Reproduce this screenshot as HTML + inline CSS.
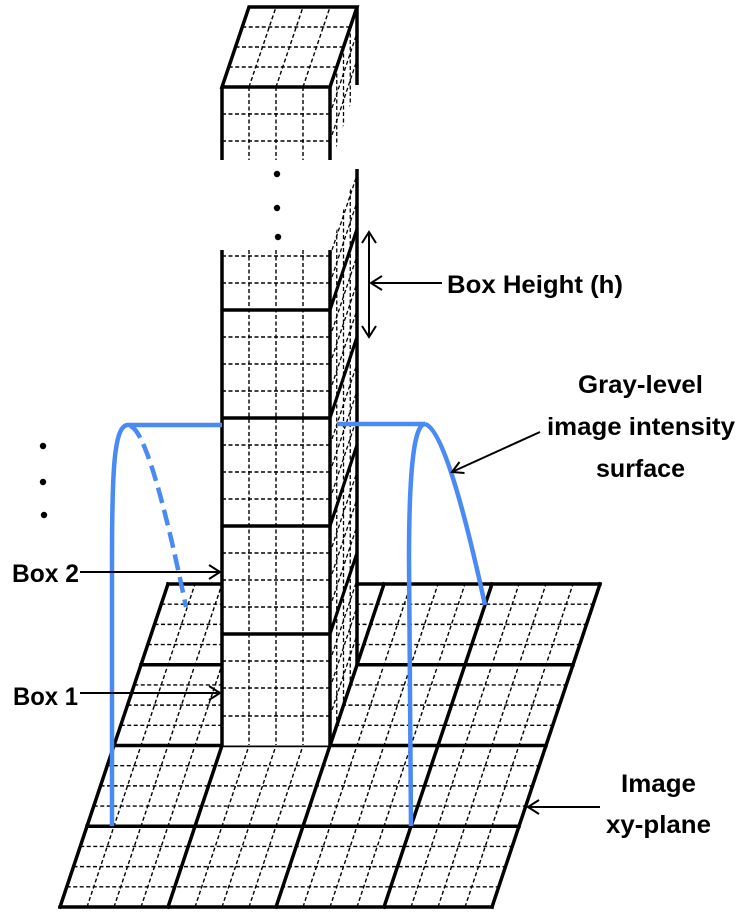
<!DOCTYPE html>
<html><head><meta charset="utf-8"><style>
html,body{margin:0;padding:0;background:#fff;}
svg{display:block;}
text{font-family:"Liberation Sans",Arial,sans-serif;font-weight:bold;font-size:25px;fill:#000;}
</style></head><body>
<svg width="749" height="917" viewBox="0 0 749 917" xmlns="http://www.w3.org/2000/svg">
<defs>
<clipPath id="sideClip"><polygon points="330,250 357,169 357,664.75 330,745.5"/></clipPath>
<clipPath id="topSideClip"><polygon points="330,87 357,7 357,85 330,166"/></clipPath>
</defs>
<rect width="749" height="917" fill="#fff"/>

<!-- ===== PLANE ===== -->
<g stroke="#000" stroke-width="1.4" stroke-dasharray="4 2.5" fill="none">
<line x1="66.75" y1="886.81" x2="498.75" y2="886.81"/>
<line x1="73.5" y1="866.63" x2="505.5" y2="866.63"/>
<line x1="80.25" y1="846.44" x2="512.25" y2="846.44"/>
<line x1="93.75" y1="806.06" x2="525.75" y2="806.06"/>
<line x1="100.5" y1="785.88" x2="532.5" y2="785.88"/>
<line x1="107.25" y1="765.69" x2="539.25" y2="765.69"/>
<line x1="120.75" y1="725.31" x2="552.75" y2="725.31"/>
<line x1="127.5" y1="705.13" x2="559.5" y2="705.13"/>
<line x1="134.25" y1="684.94" x2="566.25" y2="684.94"/>
<line x1="147.75" y1="644.56" x2="579.75" y2="644.56"/>
<line x1="154.5" y1="624.38" x2="586.5" y2="624.38"/>
<line x1="161.25" y1="604.19" x2="593.25" y2="604.19"/>
<line x1="87" y1="907" x2="195" y2="584"/>
<line x1="114" y1="907" x2="222" y2="584"/>
<line x1="141" y1="907" x2="249" y2="584"/>
<line x1="195" y1="907" x2="303" y2="584"/>
<line x1="222" y1="907" x2="330" y2="584"/>
<line x1="249" y1="907" x2="357" y2="584"/>
<line x1="303" y1="907" x2="411" y2="584"/>
<line x1="330" y1="907" x2="438" y2="584"/>
<line x1="357" y1="907" x2="465" y2="584"/>
<line x1="411" y1="907" x2="519" y2="584"/>
<line x1="438" y1="907" x2="546" y2="584"/>
<line x1="465" y1="907" x2="573" y2="584"/>
</g>
<g stroke="#000" stroke-width="3.5" fill="none" stroke-linecap="square">
<line x1="60" y1="907" x2="492" y2="907"/>
<line x1="87" y1="826.25" x2="519" y2="826.25"/>
<line x1="114" y1="745.5" x2="546" y2="745.5"/>
<line x1="141" y1="664.75" x2="573" y2="664.75"/>
<line x1="168" y1="584" x2="600" y2="584"/>
<line x1="60" y1="907" x2="168" y2="584"/>
<line x1="168" y1="907" x2="276" y2="584"/>
<line x1="276" y1="907" x2="384" y2="584"/>
<line x1="384" y1="907" x2="492" y2="584"/>
<line x1="492" y1="907" x2="600" y2="584"/>
</g>

<!-- ===== COLUMN FRONT FACE ===== -->
<rect x="222" y="250" width="108" height="495.5" fill="#fff"/>
<g stroke="#000" stroke-width="1.4" stroke-dasharray="4 2.5" fill="none">
<line x1="249" y1="250" x2="249" y2="745"/>
<line x1="276" y1="250" x2="276" y2="745"/>
<line x1="303" y1="250" x2="303" y2="745"/>
<line x1="222" y1="256" x2="330" y2="256"/>
<line x1="222" y1="283" x2="330" y2="283"/>
<line x1="222" y1="337" x2="330" y2="337"/>
<line x1="222" y1="364" x2="330" y2="364"/>
<line x1="222" y1="391" x2="330" y2="391"/>
<line x1="222" y1="445" x2="330" y2="445"/>
<line x1="222" y1="472" x2="330" y2="472"/>
<line x1="222" y1="499" x2="330" y2="499"/>
<line x1="222" y1="553" x2="330" y2="553"/>
<line x1="222" y1="580" x2="330" y2="580"/>
<line x1="222" y1="607" x2="330" y2="607"/>
<line x1="222" y1="661" x2="330" y2="661"/>
<line x1="222" y1="688" x2="330" y2="688"/>
<line x1="222" y1="716" x2="330" y2="716"/>
</g>
<g stroke="#000" stroke-width="3.5" fill="none">
<line x1="222" y1="310" x2="330" y2="310"/>
<line x1="222" y1="418" x2="330" y2="418"/>
<line x1="222" y1="526" x2="330" y2="526"/>
<line x1="222" y1="634" x2="330" y2="634"/>
</g>

<!-- ===== COLUMN SIDE FACE ===== -->
<polygon points="330,250 357,169 357,664.75 330,745.5" fill="#fff"/>
<g clip-path="url(#sideClip)">
<g stroke="#000" stroke-width="1.3" stroke-dasharray="4 2.5" fill="none">
<line x1="336.75" y1="229" x2="336.75" y2="725"/>
<line x1="343.5" y1="209" x2="343.5" y2="705"/>
<line x1="350.25" y1="189" x2="350.25" y2="685"/>
<line x1="330" y1="256" x2="357" y2="175"/>
<line x1="330" y1="283" x2="357" y2="202"/>
<line x1="330" y1="337" x2="357" y2="256"/>
<line x1="330" y1="364" x2="357" y2="283"/>
<line x1="330" y1="391" x2="357" y2="310"/>
<line x1="330" y1="445" x2="357" y2="364"/>
<line x1="330" y1="472" x2="357" y2="391"/>
<line x1="330" y1="499" x2="357" y2="418"/>
<line x1="330" y1="553" x2="357" y2="472"/>
<line x1="330" y1="580" x2="357" y2="499"/>
<line x1="330" y1="607" x2="357" y2="526"/>
<line x1="330" y1="661" x2="357" y2="580"/>
<line x1="330" y1="688" x2="357" y2="607"/>
<line x1="330" y1="716" x2="357" y2="635"/>
</g>
<g stroke="#000" stroke-width="3.2" fill="none">
<line x1="330" y1="310" x2="357" y2="229"/>
<line x1="330" y1="418" x2="357" y2="337"/>
<line x1="330" y1="526" x2="357" y2="445"/>
<line x1="330" y1="634" x2="357" y2="553"/>
</g>
</g>
<g stroke="#000" stroke-width="3.5" fill="none">
<line x1="222" y1="250" x2="222" y2="745.5"/>
<line x1="330" y1="250" x2="330" y2="745.5"/>
<line x1="357" y1="169" x2="357" y2="664.75"/>
<line x1="330" y1="745.5" x2="357" y2="664.75"/>
</g>

<!-- ===== TOP CUBE ===== -->
<rect x="222" y="87" width="108" height="73" fill="#fff"/>
<polygon points="222,87 249,7 357,7 330,87" fill="#fff"/>
<polygon points="330,87 357,7 357,85 330,166" fill="#fff"/>
<g stroke="#000" stroke-width="1.4" stroke-dasharray="4 2.5" fill="none">
<line x1="249" y1="87" x2="249" y2="160"/>
<line x1="276" y1="87" x2="276" y2="160"/>
<line x1="303" y1="87" x2="303" y2="160"/>
<line x1="222" y1="114" x2="330" y2="114"/>
<line x1="222" y1="141" x2="330" y2="141"/>
<line x1="249" y1="87" x2="276" y2="7"/>
<line x1="276" y1="87" x2="303" y2="7"/>
<line x1="303" y1="87" x2="330" y2="7"/>
<line x1="228.75" y1="67" x2="336.75" y2="67"/>
<line x1="235.5" y1="47" x2="343.5" y2="47"/>
<line x1="242.25" y1="27" x2="350.25" y2="27"/>
</g>
<g clip-path="url(#topSideClip)" stroke="#000" stroke-width="1.3" stroke-dasharray="4 2.5" fill="none">
<line x1="336.75" y1="67" x2="336.75" y2="160"/>
<line x1="343.5" y1="47" x2="343.5" y2="160"/>
<line x1="350.25" y1="27" x2="350.25" y2="160"/>
<line x1="330" y1="114" x2="357" y2="33"/>
<line x1="330" y1="141" x2="357" y2="60"/>
</g>
<g stroke="#000" stroke-width="3.5" fill="none" stroke-linejoin="miter">
<polygon points="222,87 249,7 357,7 330,87"/>
<line x1="222" y1="87" x2="222" y2="160"/>
<line x1="330" y1="87" x2="330" y2="160"/>
<line x1="357" y1="7" x2="357" y2="85"/>
</g>

<!-- dots -->
<g fill="#000">
<circle cx="277" cy="174" r="3.2"/>
<circle cx="277" cy="208" r="3.2"/>
<circle cx="278" cy="237" r="3.2"/>
<circle cx="43" cy="446" r="3.2"/>
<circle cx="43" cy="482" r="3.2"/>
<circle cx="44" cy="515" r="3.2"/>
</g>

<!-- ===== BLUE CURVES ===== -->
<g stroke="#4a8af4" stroke-width="4.5" fill="none">
<path d="M112,826 L112,560 C112,470 114,425 128,425 L222,425"/>
<path d="M130,426 C143,429 162,490 186,607" stroke-dasharray="16 7"/>
<path d="M337,424 L425,424"/>
<path d="M425,424 C414,424 409,470 409,560 L411,826"/>
<path d="M425,424 C440,428 460,490 485,605"/>
</g>

<!-- ===== ARROWS ===== -->
<g stroke="#000" stroke-width="2" fill="none">
<line x1="80" y1="572" x2="219" y2="572"/>
<path d="M209,565 L220,572 L209,579"/>
<line x1="80" y1="693" x2="219" y2="693"/>
<path d="M209,686 L220,693 L209,700"/>
<line x1="369" y1="233" x2="369" y2="336"/>
<path d="M362,243 L369,232 L376,243"/>
<path d="M362,326 L369,337 L376,326"/>
<line x1="372" y1="283" x2="442" y2="283"/>
<path d="M382,276 L371,283 L382,290"/>
<line x1="540" y1="432" x2="453" y2="471.5"/>
<path d="M459.5,462 L452,472 L464.5,473"/>
<line x1="600" y1="807" x2="529" y2="807"/>
<path d="M539,800 L528,807 L539,814"/>
</g>

<!-- ===== LABELS ===== -->
<text x="447" y="293" textLength="176" lengthAdjust="spacingAndGlyphs">Box Height (h)</text>
<text x="578" y="393" textLength="125" lengthAdjust="spacingAndGlyphs">Gray-level</text>
<text x="547" y="435" textLength="188" lengthAdjust="spacingAndGlyphs">image intensity</text>
<text x="596" y="477" textLength="89" lengthAdjust="spacingAndGlyphs">surface</text>
<text x="12" y="582" textLength="67" lengthAdjust="spacingAndGlyphs">Box 2</text>
<text x="13" y="705" textLength="65" lengthAdjust="spacingAndGlyphs">Box 1</text>
<text x="621" y="792" textLength="75" lengthAdjust="spacingAndGlyphs">Image</text>
<text x="606" y="833" textLength="105" lengthAdjust="spacingAndGlyphs">xy-plane</text>
</svg>
</body></html>
